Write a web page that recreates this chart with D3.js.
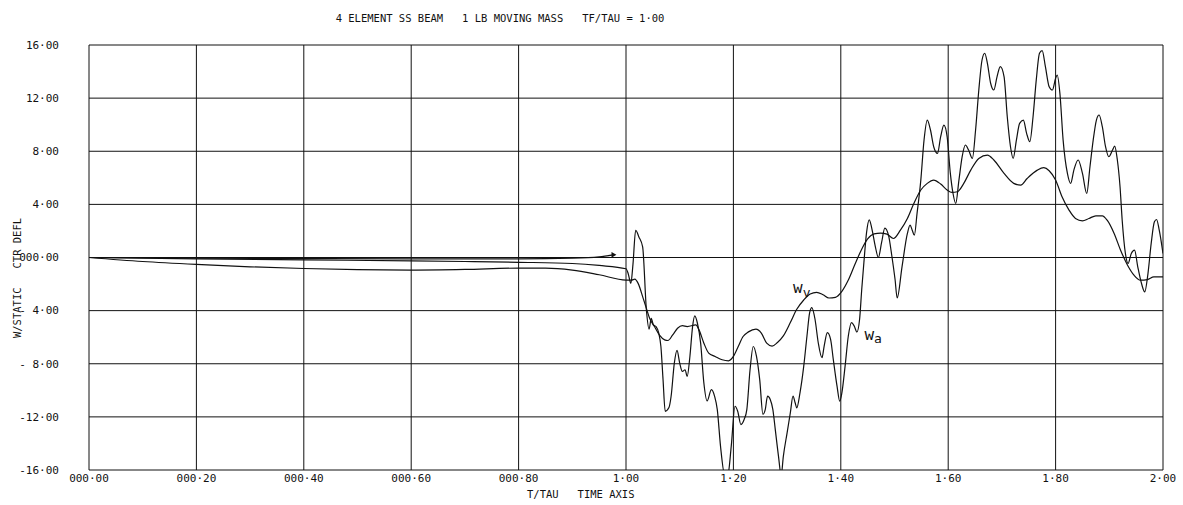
<!DOCTYPE html>
<html><head><meta charset="utf-8">
<script src="https://cdn.jsdelivr.net/npm/d3@7"></script>
<style>
html,body{margin:0;padding:0;background:#fff;}
svg text{font-family:"DejaVu Sans Mono","Liberation Mono",monospace;fill:#111;white-space:pre;}
</style></head>
<body><svg id="c" width="1183" height="505"></svg>
<script>
const titleText = "4 ELEMENT SS BEAM   1 LB MOVING MASS   TF/TAU = 1\u00b700";
const xTicks = [0,0.2,0.4,0.6,0.8,1.0,1.2,1.4,1.6,1.8,2.0];
const xTickLabels = ["000\u00b700","000\u00b720","000\u00b740","000\u00b760","000\u00b780","1\u00b700","1\u00b720","1\u00b740","1\u00b760","1\u00b780","2\u00b700"];
const yTicks = [16,12,8,4,0,-4,-8,-12,-16];
const yTickLabels = ["16\u00b700","12\u00b700","8\u00b700","4\u00b700","000\u00b700","- 4\u00b700","- 8\u00b700","-12\u00b700","-16\u00b700"];
const xAxisTitle = "T/TAU   TIME AXIS";
const yAxisTitle = "W/STATIC   CTR DEFL";

// w_a : deflection with mass (acceleration) effects  [t/tau, w/static]
const wA = [[0,0],[0.2,-0.1],[0.4,-0.18],[0.6,-0.25],[0.7,-0.3],[0.8,-0.36],[0.9,-0.45],[0.95,-0.6],[1.0,-0.85],
[1.004,-1.2],[1.009,-1.95],[1.013,-0.5],[1.018,2.05],[1.024,1.55],[1.031,0.8],[1.038,-3.95],[1.043,-5.4],[1.047,-4.58],[1.051,-5.08],[1.056,-5.2],[1.061,-5.7],[1.065,-6.7],[1.069,-9.2],[1.073,-11.58],[1.080,-11.3],[1.084,-10.45],[1.090,-7.95],[1.095,-7.0],[1.100,-7.95],[1.105,-8.58],[1.110,-8.45],[1.114,-8.95],[1.119,-7.45],[1.124,-5.2],[1.128,-4.4],[1.133,-4.95],[1.139,-6.45],[1.145,-9.45],[1.151,-10.8],[1.159,-9.95],[1.165,-10.45],[1.170,-11.45],[1.176,-14.2],[1.184,-16.4],[1.190,-16.3],[1.196,-14.2],[1.203,-11.2],[1.208,-11.58],[1.214,-12.58],[1.220,-12.2],[1.225,-11.45],[1.231,-8.45],[1.237,-6.7],[1.243,-7.45],[1.249,-9.2],[1.255,-11.8],
[1.2593,-11.45],[1.2636,-10.44],[1.2686,-10.69],[1.2735,-11.45],[1.278,-12.96],[1.284,-14.97],[1.289,-16.4],[1.293,-14.97],[1.3,-13.2],[1.306,-11.7],[1.311,-10.44],[1.315,-10.94],[1.318,-11.32],[1.324,-10.19],[1.331,-8.18],[1.337,-5.91],[1.342,-4.15],[1.346,-3.77],[1.352,-4.65],[1.358,-6.42],[1.365,-7.55],[1.369,-6.67],[1.375,-5.66],[1.381,-6.16],[1.386,-7.67],[1.393,-9.69],[1.398,-10.82],[1.402,-10.19],[1.408,-8.18],[1.414,-5.91],[1.42,-4.9],[1.425,-5.16],[1.43,-5.61],[1.435,-4.65],[1.439,-2.39],[1.443,-0.38],[1.448,1.89],[1.453,2.84],[1.458,2.14],[1.464,0.88],[1.47,0],[1.476,1.13],[1.482,2.21],[1.489,1.64],[1.495,0.13],[1.501,-1.64],[1.505,-3.05],
[1.514,-0.7],[1.524,1.81],[1.529,2.44],[1.533,2.06],[1.537,1.68],[1.542,3.32],[1.549,5.83],[1.555,8.84],[1.561,10.35],[1.567,9.6],[1.573,8.34],[1.58,7.84],[1.586,9.1],[1.592,9.97],[1.598,9.1],[1.604,6.33],[1.609,4.82],[1.614,4.07],[1.62,5.83],[1.626,7.59],[1.632,8.47],[1.638,8.09],[1.645,7.46],[1.651,9.6],[1.657,12.61],[1.663,14.87],[1.668,15.38],[1.673,14.62],[1.679,13.12],[1.685,12.61],[1.691,13.62],[1.697,14.37],[1.704,13.62],[1.71,10.6],[1.716,8.34],[1.721,7.46],[1.727,8.84],[1.733,10.1],[1.74,10.35],[1.746,9.35],[1.752,8.72],[1.758,10.6],[1.764,13.37],[1.77,15.38],[1.775,15.58],
[1.781,14.37],[1.788,12.86],[1.794,12.61],[1.8,13.49],[1.803,13.74],[1.808,12.36],[1.814,8.84],[1.822,6.33],[1.828,5.58],[1.834,6.58],[1.842,7.34],[1.85,6.33],[1.858,4.82],[1.864,6.83],[1.87,8.84],[1.876,10.35],[1.881,10.73],[1.887,9.85],[1.893,8.34],[1.899,7.59],[1.906,8.09],[1.91,8.39],[1.915,7.34],[1.92,5.33],[1.924,2.81],[1.93,0.3],[1.935,-0.45],[1.941,0.3],[1.947,0.55],[1.953,-0.7],[1.96,-1.96],[1.966,-2.59],[1.972,-1.21],[1.978,1.06],[1.984,2.69],[1.988,2.86],[1.993,2.06],[2.0,0.3]];

// w_v : deflection under moving force (velocity only)
const wV = [[0,0],[0.1,-0.3],[0.2,-0.52],[0.3,-0.7],[0.4,-0.83],[0.5,-0.92],[0.6,-0.95],[0.7,-0.9],[0.8,-0.8],[0.85,-0.8],[0.9,-0.95],[0.95,-1.3],[1.0,-1.7],
[1.0104,-1.7],[1.0165,-1.63],[1.0226,-1.95],[1.032,-3.08],[1.038,-3.83],[1.044,-4.58],[1.053,-5.2],[1.062,-5.83],[1.072,-6.2],[1.078,-6.25],[1.087,-5.83],[1.096,-5.33],[1.105,-5.13],[1.114,-5.2],[1.13,-5.08],[1.136,-5.45],[1.145,-6.45],[1.154,-7.2],[1.166,-7.45],[1.179,-7.7],[1.191,-7.78],[1.2,-7.45],[1.209,-6.7],[1.218,-5.95],[1.228,-5.6],[1.242,-5.4],[1.252,-5.7],[1.262,-6.45],[1.272,-6.67],[1.282,-6.4],[1.293,-5.9],[1.306,-4.9],[1.318,-3.9],[1.331,-3.2],[1.343,-2.75],[1.355,-2.62],[1.367,-2.8],[1.378,-3.05],[1.39,-3.0],[1.402,-2.55],[1.414,-1.7],[1.426,-0.55],[1.438,0.55],[1.45,1.4],[1.462,1.78],[1.474,1.84],[1.486,1.76],[1.498,1.43],[1.511,2.06],[1.524,2.94],[1.536,4.07],[1.549,5.08],[1.561,5.58],[1.573,5.83],[1.586,5.53],[1.598,5.08],[1.607,4.9],[1.617,4.95],[1.629,5.58],[1.642,6.58],[1.657,7.46],[1.673,7.71],[1.685,7.34],[1.704,6.33],[1.722,5.58],[1.735,5.45],[1.747,5.95],[1.766,6.58],[1.778,6.76],[1.788,6.53],[1.8,5.83],[1.812,4.57],[1.825,3.57],[1.837,2.94],[1.85,2.76],[1.862,2.94],[1.875,3.14],[1.887,3.14],[1.896,2.81],[1.909,1.81],[1.921,0.55],[1.934,-0.58],[1.946,-1.33],[1.958,-1.71],[1.971,-1.66],[1.983,-1.46],[2.0,-1.46]];

// third trace (mass on beam, ends with arrowhead)
const wS = [[0,0],[0.2,-0.05],[0.4,-0.08],[0.6,-0.1],[0.8,-0.1],[0.9,-0.05],[0.95,0.05],[0.976,0.2]];

const svg = d3.select("#c");
const x = d3.scaleLinear().domain([0,2]).range([89,1163]);
const y = d3.scaleLinear().domain([-16,16]).range([470,45]);
const ink = "#111";

// grid
svg.append("g").selectAll("line").data(xTicks).join("line")
  .attr("x1",d=>x(d)).attr("x2",d=>x(d)).attr("y1",y(16)).attr("y2",y(-16))
  .attr("stroke",ink).attr("stroke-width",1);
svg.append("g").selectAll("line").data(yTicks).join("line")
  .attr("x1",x(0)).attr("x2",x(2)).attr("y1",d=>y(d)).attr("y2",d=>y(d))
  .attr("stroke",ink).attr("stroke-width",1);

// tick labels
svg.append("g").selectAll("text").data(yTicks).join("text")
  .attr("x",59).attr("y",d=>y(d)).attr("dy","0.35em").attr("text-anchor","end")
  .attr("font-size",11).text((d,i)=>yTickLabels[i]);
svg.append("g").selectAll("text").data(xTicks).join("text")
  .attr("x",d=>x(d)).attr("y",482).attr("text-anchor","middle")
  .attr("font-size",11).text((d,i)=>xTickLabels[i]);

svg.append("text").attr("x",500).attr("y",22).attr("text-anchor","middle").attr("font-size",10.5).text(titleText);
svg.append("text").attr("x",527).attr("y",498).attr("font-size",10.5).text(xAxisTitle);
svg.append("text").attr("transform","translate(21,278) rotate(-90)").attr("text-anchor","middle").attr("font-size",10.5).text(yAxisTitle);

// curves
svg.append("clipPath").attr("id","pc").append("rect")
  .attr("x",x(0)).attr("y",y(16)).attr("width",x(2)-x(0)).attr("height",y(-16)-y(16));
const line = d3.line().x(d=>x(d[0])).y(d=>y(d[1])).curve(d3.curveMonotoneX);
const g = svg.append("g").attr("clip-path","url(#pc)");
[wA,wV,wS].forEach(s=>{
  g.append("path").attr("d",line(s)).attr("fill","none").attr("stroke",ink).attr("stroke-width",1.2);
});
// arrowhead at end of third trace
const last = wS[wS.length-1];
svg.append("path").attr("d",d3.symbol().type(d3.symbolTriangle).size(14)())
  .attr("transform",`translate(${x(last[0])},${y(last[1])}) rotate(90)`).attr("fill",ink);

// curve labels
const lab = svg.append("g").style("font-family","'Liberation Sans',Arial,sans-serif");
const wvT = lab.append("text").attr("x",x(1.311)).attr("y",y(-2.65)).attr("font-size",16);
wvT.append("tspan").text("w");
wvT.append("tspan").attr("font-size",13).attr("dy",4).text("v");
const waT = lab.append("text").attr("x",x(1.444)).attr("y",y(-6.2)).attr("font-size",16);
waT.append("tspan").text("w");
waT.append("tspan").attr("font-size",13).attr("dy",3).text("a");
</script></body></html>
